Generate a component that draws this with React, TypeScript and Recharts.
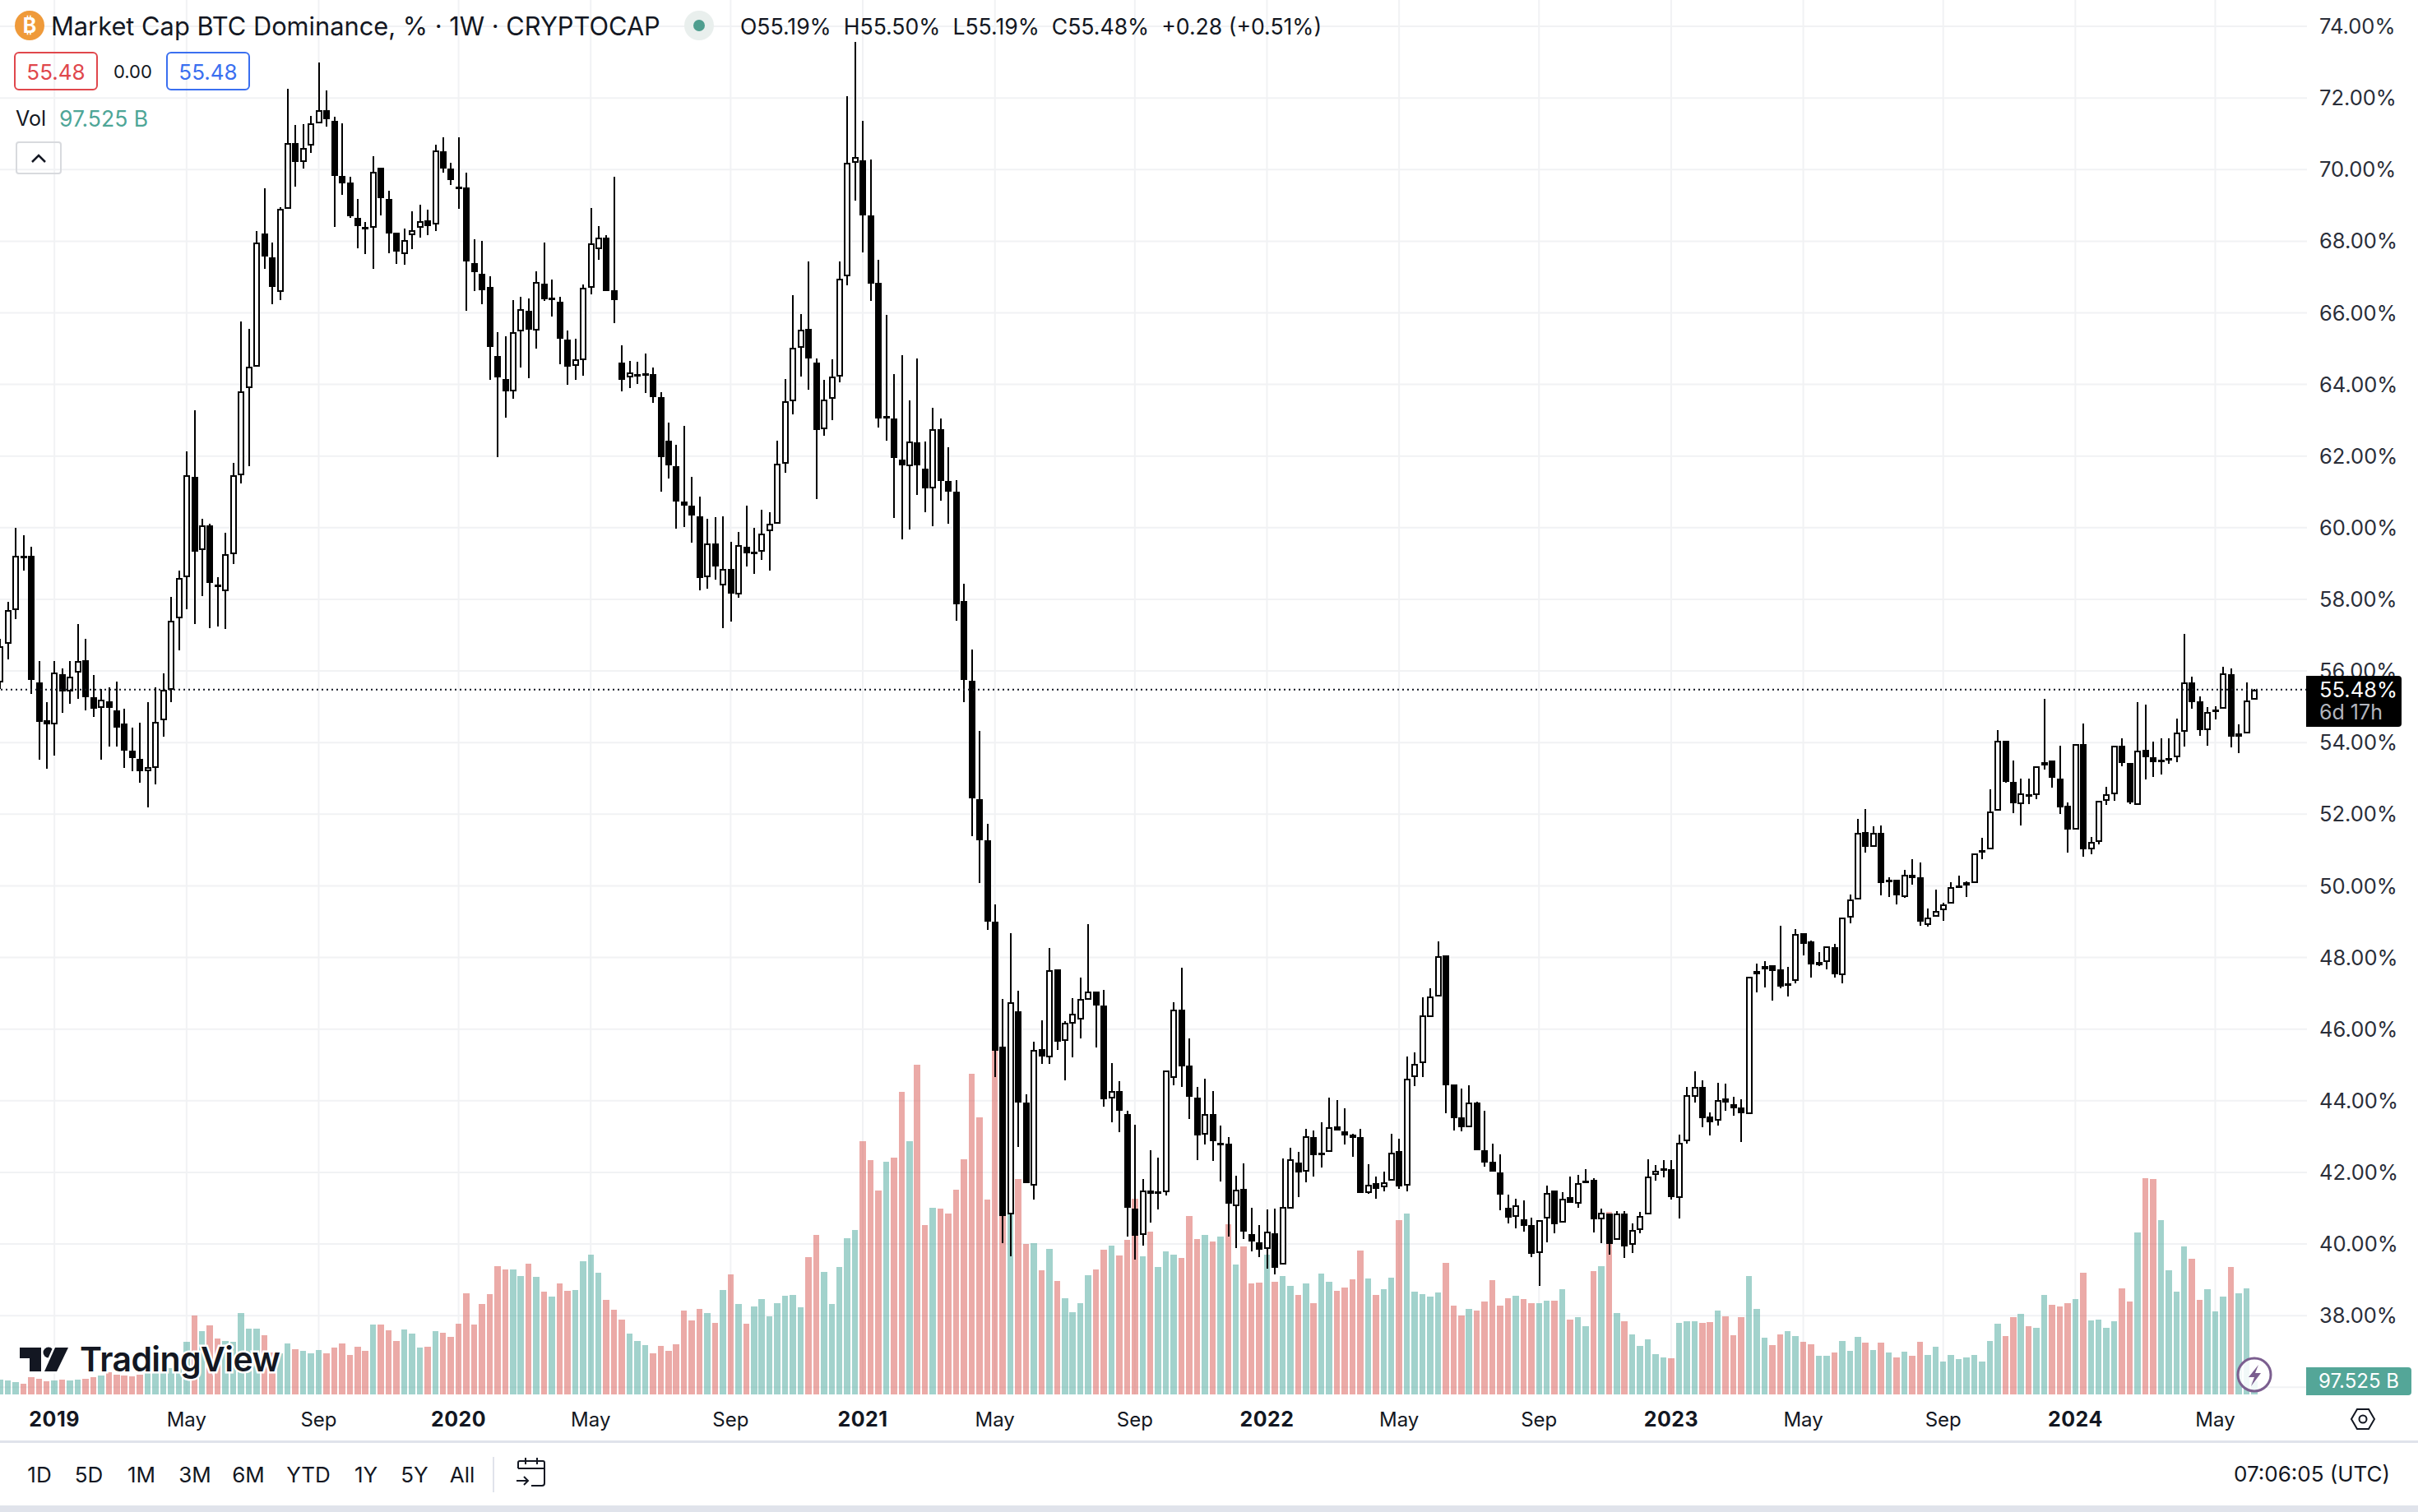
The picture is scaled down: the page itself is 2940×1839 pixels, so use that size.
import { Bar, CartesianGrid, ComposedChart, ReferenceLine, XAxis, YAxis } from "recharts";

// weekly candles, % dominance
const opens = [
  55.68,56.76,57.70,59.22,59.22,55.68,54.62,54.51,55.92,55.43,
  55.96,56.31,55.26,54.98,55.16,54.91,54.53,53.78,53.55,53.21,
  53.29,54.63,55.47,57.48,58.63,61.41,59.37,60.06,58.42,58.24,
  59.26,61.47,63.90,64.50,68.21,67.55,66.58,68.91,70.75,70.22,
  70.67,71.30,71.65,71.37,69.82,69.63,68.64,68.40,68.38,70.05,
  69.19,68.24,67.65,68.16,68.38,68.59,68.46,70.50,70.03,69.52,
  69.50,67.39,67.08,66.72,64.80,64.15,63.81,65.48,66.06,65.50,
  66.82,66.39,66.30,65.26,64.52,64.68,66.71,67.79,68.10,66.64,
  64.61,64.19,64.22,64.25,64.30,63.65,62.43,61.71,60.73,60.62,
  60.31,58.62,59.57,58.38,58.85,58.14,59.47,59.27,59.34,59.91,
  60.12,61.78,63.54,65.02,65.55,64.61,62.76,63.59,64.21,67.01,
  70.18,70.26,68.73,66.83,63.06,63.06,61.90,61.71,62.39,61.65,
  61.10,62.74,61.31,61.00,57.96,55.72,52.43,51.28,49.01,45.51,
  40.83,46.50,43.95,41.63,45.44,45.22,47.66,45.68,46.15,46.27,
  46.82,47.05,46.66,44.07,44.27,43.62,40.99,40.25,41.49,41.43,
  41.45,44.64,46.54,44.98,44.08,43.05,43.62,42.78,42.80,41.06,
  41.53,40.28,40.05,39.87,40.31,39.43,40.99,42.27,42.02,42.98,
  42.48,42.57,43.28,43.14,43.06,42.98,41.43,41.69,41.59,41.77,
  42.59,41.63,44.67,45.06,46.34,46.90,48.06,44.45,43.53,43.26,
  43.95,42.61,42.29,41.99,41.00,40.76,40.70,40.52,39.75,40.71,
  41.49,40.60,41.30,41.12,41.71,41.79,40.68,40.84,40.12,40.84,
  39.97,40.38,40.82,41.93,42.05,42.08,41.28,42.87,44.11,44.38,
  43.56,43.45,44.06,43.90,43.81,43.62,47.53,47.66,47.78,47.66,
  47.21,47.34,48.67,48.44,47.79,47.88,48.28,47.51,49.11,49.63,
  51.50,51.08,51.49,50.12,50.16,49.70,50.30,50.23,48.90,49.14,
  49.32,49.50,49.98,50.01,50.09,50.93,51.03,52.09,54.06,52.91,
  52.28,52.57,52.53,53.36,53.49,53.00,52.23,51.58,53.95,51.02,
  51.23,52.37,52.55,53.92,53.44,52.25,53.79,53.60,53.46,53.52,
  53.60,54.30,55.69,55.16,54.36,54.87,54.94,55.90,54.17,54.25,
  55.19,
];
const closes = [
  56.69,57.70,59.22,59.15,55.75,54.58,54.52,55.96,55.43,55.85,
  56.27,55.26,54.94,55.19,54.98,54.42,53.78,53.57,53.21,53.32,
  54.58,55.48,57.41,58.60,61.47,59.33,60.06,58.46,58.34,59.26,
  61.47,63.81,64.50,67.96,67.58,66.72,68.91,70.75,70.22,70.61,
  71.30,71.66,71.41,69.82,69.61,68.69,68.42,68.35,69.94,69.21,
  68.21,67.70,68.04,68.31,68.57,68.43,70.54,70.02,69.70,69.48,
  67.44,67.13,66.64,65.05,64.20,63.81,65.46,66.10,65.53,66.86,
  66.39,66.43,65.28,64.50,64.70,66.70,67.93,68.10,66.61,66.35,
  64.12,64.34,64.29,64.31,63.65,61.97,61.73,60.73,60.62,60.33,
  58.60,59.57,58.91,58.86,58.15,59.52,59.29,59.34,59.83,60.10,
  61.78,63.54,65.02,65.52,64.72,62.72,63.58,64.21,66.96,70.18,
  70.34,68.73,66.81,63.06,63.12,61.94,61.74,62.40,61.73,61.10,
  62.76,61.31,61.00,57.86,55.75,52.45,51.28,49.00,45.39,40.79,
  46.75,43.94,41.71,45.43,45.23,47.64,45.64,46.17,46.42,46.84,
  47.04,46.67,44.05,44.28,43.71,41.02,40.24,41.50,41.41,41.47,
  44.84,46.54,44.95,44.10,43.04,43.62,42.86,42.82,41.13,41.52,
  40.35,40.06,39.85,40.34,39.34,41.04,42.37,41.99,43.00,42.47,
  42.56,43.27,43.16,43.04,42.97,41.43,41.66,41.54,41.72,42.56,
  41.60,44.62,45.04,46.38,46.90,48.03,44.44,43.52,43.25,43.94,
  42.61,42.28,42.01,41.39,40.74,41.07,40.51,39.73,40.67,41.43,
  40.56,41.27,41.16,41.71,41.78,40.70,40.87,40.01,40.86,39.94,
  40.38,40.79,41.89,42.05,42.11,41.32,42.83,44.15,44.38,43.52,
  43.39,44.03,43.94,43.79,43.66,47.46,47.62,47.75,47.62,47.18,
  47.28,48.66,48.39,47.80,47.87,48.31,47.52,49.12,49.63,51.48,
  51.08,51.48,50.09,50.18,49.73,50.31,50.21,48.99,49.12,49.31,
  49.49,49.97,50.02,50.10,50.91,50.99,52.08,54.05,52.90,52.31,
  52.58,52.52,53.34,53.46,53.02,52.19,51.57,53.95,51.02,51.22,
  52.38,52.56,53.92,53.43,52.32,53.78,53.59,53.46,53.52,53.57,
  54.28,55.69,55.13,54.35,54.86,54.93,55.94,54.17,54.25,55.18,
  55.48,
];
const highs = [
  56.90,57.93,59.99,59.79,59.47,56.27,55.12,56.27,56.07,56.27,
  57.32,56.90,55.89,55.50,55.54,55.71,54.94,54.42,54.56,55.12,
  55.54,55.93,58.07,58.80,62.14,63.29,60.24,60.10,58.63,59.85,
  61.82,65.75,65.55,68.29,69.47,67.97,68.94,72.25,71.24,71.27,
  71.49,73.00,72.22,71.47,71.30,69.80,69.19,68.53,70.38,70.05,
  69.40,68.24,68.35,68.83,69.03,68.88,70.69,70.89,70.20,70.90,
  69.92,68.06,68.01,67.03,65.47,65.35,66.36,66.45,66.41,67.16,
  67.97,66.93,66.45,65.51,65.28,66.80,68.93,68.43,68.16,69.81,
  65.10,64.66,64.64,64.87,64.48,63.79,62.93,62.31,62.85,61.42,
  60.86,60.24,60.30,60.31,59.61,59.88,60.62,60.00,60.50,60.43,
  62.43,64.15,66.50,65.97,67.44,64.72,64.14,64.70,67.43,72.06,
  73.56,71.36,70.29,67.49,65.95,64.30,64.82,63.55,64.72,62.40,
  63.34,63.05,62.24,61.32,58.43,56.59,54.32,51.74,49.49,46.84,
  48.69,47.07,44.18,45.65,46.25,48.27,47.67,46.23,46.87,47.44,
  48.92,47.05,47.10,45.05,44.55,43.72,43.33,41.81,42.61,42.41,
  44.84,46.75,47.72,45.74,44.38,44.61,44.27,43.30,42.98,41.91,
  42.25,41.01,40.54,40.97,40.99,42.38,42.69,42.57,43.21,43.16,
  43.39,44.09,44.02,43.79,43.07,43.21,42.22,41.88,42.02,43.07,
  42.93,45.23,45.35,46.89,47.14,48.45,48.06,44.45,44.34,44.43,
  43.98,43.72,42.80,42.50,41.37,41.26,41.21,40.73,40.67,41.62,
  41.49,41.45,41.88,41.93,42.08,41.84,40.99,40.84,40.93,40.93,
  40.57,40.90,42.36,42.20,42.34,42.34,43.05,44.38,44.82,44.57,
  43.67,44.50,44.48,44.11,44.04,47.46,47.83,47.90,47.78,48.89,
  47.73,48.79,48.67,48.47,48.15,48.31,48.37,49.12,49.75,51.86,
  52.15,51.66,51.68,50.23,50.16,50.44,50.74,50.66,49.37,49.89,
  49.52,50.11,50.28,50.13,50.91,51.35,52.70,54.34,54.06,53.49,
  53.00,52.99,53.34,55.23,53.49,53.92,52.34,53.97,54.54,51.37,
  52.38,52.77,53.92,54.13,53.44,55.12,55.07,54.02,54.11,54.11,
  54.66,57.03,55.83,55.28,55.00,55.01,56.11,56.06,54.51,55.67,
  55.50,
];
const lows = [
  55.50,56.33,57.44,58.80,55.37,53.53,53.26,53.63,54.84,55.08,
  55.23,54.91,54.72,53.53,53.88,53.88,53.29,53.21,52.87,52.20,
  52.84,54.16,55.12,56.58,57.73,57.30,58.10,57.20,57.25,57.18,
  58.98,61.23,61.72,64.50,67.22,66.24,66.35,68.91,69.53,70.03,
  70.46,71.30,71.19,68.40,69.30,68.66,67.81,67.65,67.22,68.71,
  67.66,67.37,67.34,67.78,68.10,68.17,68.29,69.92,69.57,68.90,
  66.06,66.61,66.24,64.12,61.97,63.07,63.60,64.48,64.17,65.00,
  66.33,65.90,64.56,63.99,64.12,64.24,66.52,67.49,66.61,65.71,
  63.81,63.90,64.01,63.76,63.49,61.00,61.37,59.97,60.02,59.58,
  58.26,58.30,58.54,57.19,57.37,58.05,58.91,58.70,59.11,58.80,
  60.12,61.53,63.16,64.22,63.85,60.80,62.56,63.01,64.05,66.77,
  69.13,67.68,66.33,62.80,62.43,60.28,59.68,59.95,60.91,60.44,
  60.04,60.76,60.10,57.41,55.12,51.39,50.07,48.77,44.65,40.03,
  39.66,42.70,41.69,41.23,45.04,45.04,45.43,44.56,45.22,45.73,
  47.04,45.48,43.84,43.40,43.13,40.21,39.57,39.96,40.60,40.97,
  41.35,44.44,44.38,43.48,42.35,42.77,42.33,41.75,40.21,39.89,
  40.13,39.80,39.64,39.32,39.16,39.43,40.99,41.32,41.73,41.89,
  42.14,42.57,43.16,42.77,42.44,41.43,41.41,41.27,41.48,41.77,
  41.55,41.46,44.42,44.65,46.34,46.90,43.66,43.17,43.15,43.26,
  42.61,42.15,42.01,40.95,40.58,40.44,40.35,39.64,38.84,40.05,
  40.31,40.60,41.16,41.00,41.69,40.33,40.03,39.71,40.12,39.61,
  39.75,40.31,40.82,41.78,41.87,41.23,40.72,42.81,43.94,43.25,
  43.02,43.30,43.73,43.59,42.84,43.62,47.02,47.16,46.79,47.13,
  46.92,47.27,48.07,47.44,47.76,47.68,47.45,47.27,48.95,49.63,
  50.93,51.08,49.74,49.69,49.48,49.67,50.04,48.89,48.87,49.14,
  49.02,49.50,49.98,49.69,50.09,50.75,51.03,52.09,52.88,52.03,
  51.69,52.28,52.42,53.25,52.74,52.00,50.93,51.58,50.81,50.88,
  51.16,52.26,52.38,53.33,52.28,52.25,52.97,53.04,53.11,53.41,
  53.46,53.89,54.95,54.18,53.91,54.64,54.94,53.86,53.70,54.25,
  55.19,
];
// billions
const volumes = [
  110,104,92,76,124,112,94,100,106,100,
  106,112,124,138,160,145,140,132,145,155,
  180,180,195,240,382,574,460,502,406,388,
  382,592,478,478,430,304,300,370,328,316,
  298,322,298,340,370,286,346,316,508,508,
  466,388,472,442,340,346,460,448,418,514,
  736,508,658,730,934,910,910,862,952,856,
  748,712,808,754,760,970,1018,886,688,616,
  544,442,388,358,298,352,316,364,610,538,
  622,592,520,760,874,658,514,640,694,568,
  664,718,724,634,1000,1162,892,658,928,1138,
  1198,1846,1708,1486,1696,1726,2206,1846,2404,1234,
  1360,1354,1318,1492,1714,2338,2020,1420,2510,1500,
  1450,1570,1096,1102,904,1060,826,700,598,664,
  868,910,1054,1084,1012,1126,1426,1006,1186,928,
  1042,1018,994,1300,1132,1162,1114,1150,1240,946,
  1078,808,814,1018,820,862,790,724,808,664,
  880,820,754,778,838,1048,844,724,766,850,
  1270,1318,748,730,712,742,958,646,574,622,
  610,676,832,646,700,718,694,664,664,682,
  682,766,544,562,496,898,934,1330,592,532,
  436,352,402,294,270,264,522,534,534,522,
  528,612,568,432,564,864,624,414,360,438,
  462,426,384,366,282,282,306,390,318,420,
  378,324,378,306,270,312,282,384,288,348,
  240,288,258,270,288,240,390,516,426,564,
  588,498,486,726,654,642,666,696,888,540,
  546,486,534,774,678,1182,1578,1572,1272,906,
  750,1080,990,690,768,606,714,930,738,774,
  97.525,
];

const tickIndexes = [7, 24, 41, 59, 76, 94, 111, 128, 146, 163, 180, 198, 215, 232, 250, 267, 285];
const tickLabels = ["2019", "May", "Sep", "2020", "May", "Sep", "2021", "May", "Sep", "2022", "May", "Sep", "2023", "May", "Sep", "2024", "May"];
const priceTicks = [38, 40, 42, 44, 46, 48, 50, 52, 54, 56, 58, 60, 62, 64, 66, 68, 70, 72, 74];
const gridPrices = [36, ...priceTicks];
const rangeButtons = ["1D", "5D", "1M", "3M", "6M", "YTD", "1Y", "5Y", "All"];
const rangeCenters = [48, 108, 172, 237, 302, 375, 445, 504, 562];
const lastPrice = 55.48;

const rows = opens.map((open, index) => ({
  index,
  open,
  close: closes[index],
  high: highs[index],
  low: lows[index],
  range: [lows[index], highs[index]],
  volume: volumes[index],
}));

const INK = "#131722";
const FONT = "Inter, 'Noto Sans', sans-serif";

const Candle = (props: any) => {
  const { x, y, width, height, payload } = props;
  const perUnit = height / (payload.high - payload.low);
  const at = (v: number) => y + (payload.high - v) * perUnit;
  const cx = Math.round(x + width / 2);
  const up = payload.close >= payload.open;
  const top = Math.round(at(Math.max(payload.open, payload.close)));
  const h = Math.max(Math.round(at(Math.min(payload.open, payload.close))) - top, 3);
  const wickTop = Math.round(y);
  return (
    <g shapeRendering="crispEdges">
      <rect x={cx - 1} y={wickTop} width={2} height={Math.round(y + height) - wickTop} fill="#000" />
      {up ? (
        <rect x={cx - 3} y={top + 1} width={6} height={Math.max(h - 2, 1)} fill="#fff" stroke="#000" strokeWidth={2} />
      ) : (
        <rect x={cx - 4} y={top} width={8} height={h} fill="#000" />
      )}
    </g>
  );
};

const VolumeBar = (props: any) => {
  const { x, y, width, height, payload } = props;
  const fill = payload.close >= payload.open ? "#45a599" : "#d7554f";
  const left = Math.round(x);
  return <rect x={left} y={y} width={Math.round(x + width) - left} height={height} fill={fill} fillOpacity={0.5} shapeRendering="crispEdges" />;
};

const TimeTick = (props: any) => {
  const { x, y, payload } = props;
  const label = tickLabels[tickIndexes.indexOf(payload.value)];
  const isYear = /^\d+$/.test(label);
  return (
    <text x={x} y={y + 24} textAnchor="middle" dominantBaseline="middle" fontFamily={FONT} fontSize={isYear ? 25 : 24} letterSpacing={isYear ? 0.5 : 0} fontWeight={isYear ? 700 : 400} fill={INK}>
      {label}
    </text>
  );
};

const abs = (left: number, top: number, extra: any = {}) => ({
  position: "absolute" as const,
  left,
  top,
  whiteSpace: "nowrap" as const,
  ...extra,
});

const Overlays = () => (
  <>
    {/* legend */}
    <div style={abs(18, 13, { width: 36, height: 36, borderRadius: 18, background: "#ef9a3a", color: "#fff", fontSize: 25, fontWeight: 700, lineHeight: "36px", textAlign: "center" })}>₿</div>
    <div style={abs(62, 14, { fontSize: 30.8, lineHeight: "36px", color: INK })}>Market Cap BTC Dominance, % · 1W · CRYPTOCAP</div>
    <div style={abs(832, 13, { width: 36, height: 36, borderRadius: 18, background: "#e9efed" })} />
    <div style={abs(843, 24, { width: 14, height: 14, borderRadius: 7, background: "#4f9e8f" })} />
    <div style={abs(900, 14, { fontSize: 26.6, lineHeight: "36px", color: INK })}>O55.19%&nbsp; H55.50%&nbsp; L55.19%&nbsp; C55.48%&nbsp; +0.28 (+0.51%)</div>
    <div style={abs(17, 63, { width: 102, height: 47, boxSizing: "border-box", border: "2px solid #e0474c", borderRadius: 6, color: "#e0474c", fontSize: 26, lineHeight: "45px", textAlign: "center" })}>55.48</div>
    <div style={abs(138, 64, { fontSize: 22, lineHeight: "47px", color: INK })}>0.00</div>
    <div style={abs(202, 63, { width: 102, height: 47, boxSizing: "border-box", border: "2px solid #3a6ff0", borderRadius: 6, color: "#3a6ff0", fontSize: 26, lineHeight: "45px", textAlign: "center" })}>55.48</div>
    <div style={abs(19, 126, { fontSize: 25, lineHeight: "36px", color: INK })}>Vol</div>
    <div style={abs(72, 126, { fontSize: 26.5, lineHeight: "36px", color: "#4ea697" })}>97.525 B</div>
    <div style={abs(19, 172, { width: 56, height: 40, boxSizing: "border-box", border: "2px solid #d8dade", borderRadius: 4 })} />
    <svg style={abs(0, 0)} width={2940} height={1839}>
      <path d="M39 197 L47 189 L55 197" fill="none" stroke={INK} strokeWidth={2.5} />
      {/* TradingView mark */}
      <g stroke="#fff" strokeWidth={5} paintOrder="stroke" fill={INK}>
        <path d="M24 1639 H50 V1668 H36 V1652 H24 Z" />
        <circle cx={59} cy={1645} r={6.5} />
        <path d="M67 1639 H83 L69 1668 H54 Z" />
        <text x={97} y={1668} fontFamily={FONT} fontSize={41} fontWeight={600} letterSpacing={-0.6}>TradingView</text>
      </g>
      {/* lightning button */}
      <circle cx={2741} cy={1672} r={20} fill="#fff" fillOpacity={0.85} stroke="#7b5e8f" strokeWidth={3} />
      <path d="M2746 1660 L2734 1675 H2741 L2737 1686 L2749 1670 H2742 Z" fill="#7b5e8f" />
      {/* settings hexagon */}
      <path d="M2866 1714 H2880 L2887 1726 L2880 1738 H2866 L2859 1726 Z" fill="none" stroke={INK} strokeWidth={2} />
      <circle cx={2873} cy={1726} r={4.5} fill="none" stroke={INK} strokeWidth={2} />
      {/* calendar icon */}
      <path d="M630 1786 V1779 Q630 1777 632 1777 H660 Q662 1777 662 1779 V1804 Q662 1807 659 1807 H646 M630 1786 H662 M639 1773 V1781 M653 1773 V1781 M628 1801 H642 M637 1796 L642 1801 L637 1806" fill="none" stroke={INK} strokeWidth={2} />
    </svg>

    {/* price scale badges */}
    <div style={abs(2804, 822, { width: 116, height: 62, background: "#000", borderRadius: "0 4px 4px 0" })} />
    <div style={abs(2820, 825, { fontSize: 25.5, lineHeight: "28px", color: "#fff" })}>55.48%</div>
    <div style={abs(2820, 852, { fontSize: 25, lineHeight: "28px", color: "#b2b5be" })}>6d 17h</div>
    <div style={abs(2804, 1663, { width: 128, height: 34, background: "#54a698", borderRadius: "0 4px 4px 0", color: "#fff", fontSize: 24, lineHeight: "34px", textAlign: "center" })}>97.525 B</div>

    {/* bottom toolbar */}
    <div style={abs(0, 1752, { width: 2940, height: 3, background: "#e0e3eb" })} />
    <div style={abs(0, 1831, { width: 2940, height: 8, background: "#e0e3eb" })} />
    {rangeButtons.map((label, i) => (
      <div key={label} style={abs(rangeCenters[i] - 40, 1776, { width: 80, textAlign: "center", fontSize: 26, lineHeight: "36px", color: INK })}>
        {label}
      </div>
    ))}
    <div style={abs(599, 1772, { width: 2, height: 43, background: "#e0e3eb" })} />
    <div style={abs(2716, 1775, { fontSize: 26, lineHeight: "36px", color: INK })}>07:06:05 (UTC)</div>
  </>
);

export default function App() {
  return (
    <div style={{ position: "absolute", left: 0, top: 0, width: 2940, height: 1839, background: "#fff", overflow: "hidden", fontFamily: FONT }}>
      <ComposedChart width={2940} height={1839} data={rows} margin={{ top: 0, right: 0, bottom: 0, left: 0 }}>
        <CartesianGrid
          xAxisId="price"
          yAxisId="price"
          stroke="#f1f2f4"
          strokeWidth={2}
          horizontalValues={gridPrices}
          verticalValues={tickIndexes}
        />
        <XAxis
          xAxisId="price"
          dataKey="index"
          type="number"
          domain={[0, 296.8]}
          allowDataOverflow
          ticks={tickIndexes}
          interval={0}
          height={143}
          axisLine={false}
          tickLine={false}
          tick={TimeTick}
        />
        <XAxis xAxisId="volume" dataKey="index" type="number" domain={[0, 296.8]} allowDataOverflow hide />
        <YAxis
          yAxisId="price"
          orientation="right"
          domain={[35.8, 74.735]}
          allowDataOverflow
          ticks={priceTicks}
          interval={0}
          width={135}
          axisLine={false}
          tickLine={false}
          tickMargin={9}
          tick={{ fontFamily: FONT, fontSize: 25.5, fill: "#2a2e39" }}
          tickFormatter={(v: number) => `${v.toFixed(2)}%`}
        />
        <YAxis yAxisId="volume" domain={[0, 10176]} allowDataOverflow hide />
        <Bar xAxisId="volume" yAxisId="volume" dataKey="volume" barSize={7.5} shape={VolumeBar} isAnimationActive={false} />
        <ReferenceLine xAxisId="price" yAxisId="price" y={lastPrice} stroke="#131722" strokeWidth={2} strokeDasharray="2 4" />
        <Bar xAxisId="price" yAxisId="price" dataKey="range" barSize={8} shape={Candle} isAnimationActive={false} />
      </ComposedChart>
      <Overlays />
    </div>
  );
}
